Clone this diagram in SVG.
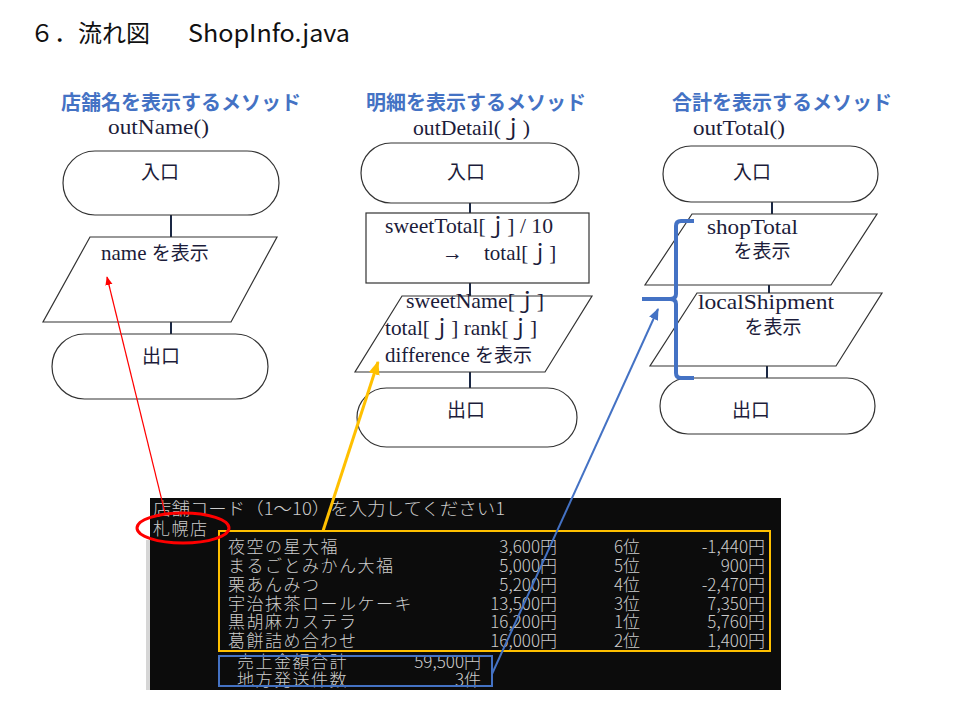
<svg xmlns="http://www.w3.org/2000/svg" width="960" height="720" viewBox="0 0 960 720">
<style>
.title{font-family:"Noto Sans CJK JP","Liberation Sans",sans-serif;font-size:24px;fill:#111}
.sec{font-family:"Noto Sans CJK JP",sans-serif;font-size:20px;font-weight:bold;fill:#4472C4}
.fc{font-family:"Liberation Serif","Noto Sans CJK JP",serif;font-size:21px;fill:#1c1c3a}
.jp{font-family:"Noto Sans CJK JP",sans-serif;font-size:19px;fill:#1c1c3a}
.shape{fill:#fff;stroke:#333;stroke-width:1.2}
.flow{stroke:#1a2744;stroke-width:2;fill:none}
.con{font-family:"Noto Sans CJK JP","Liberation Mono",monospace;font-size:17px;font-weight:300;fill:#cccccc}
.ls{letter-spacing:1.5px}
</style>
<defs>
<marker id="mRed" viewBox="0 0 10 10" refX="9" refY="5" markerWidth="9" markerHeight="9" markerUnits="userSpaceOnUse" orient="auto"><path d="M0,1 L10,5 L0,9 z" fill="#ff0000"/></marker>
<marker id="mYel" viewBox="0 0 10 10" refX="9" refY="5" markerWidth="14" markerHeight="14" markerUnits="userSpaceOnUse" orient="auto"><path d="M0,1 L10,5 L0,9 z" fill="#FFC000"/></marker>
<marker id="mBlu" viewBox="0 0 10 10" refX="9" refY="5" markerWidth="12" markerHeight="12" markerUnits="userSpaceOnUse" orient="auto"><path d="M0,1 L10,5 L0,9 z" fill="#4472C4"/></marker>
<clipPath id="conClip"><rect x="150" y="498" width="631" height="192"/></clipPath>
</defs>
<rect width="960" height="720" fill="#fff"/>

<g id="title">
<text class="title" x="30" y="42">６．流れ図</text>
<text class="title" x="188" y="42" textLength="162" lengthAdjust="spacingAndGlyphs">ShopInfo.java</text>
</g>

<g id="headers">
<text class="sec" x="181" y="110" text-anchor="middle">店舗名を表示するメソッド</text>
<text class="fc" x="108" y="134" textLength="101" lengthAdjust="spacingAndGlyphs">outName()</text>
<text class="sec" x="476" y="110" text-anchor="middle">明細を表示するメソッド</text>
<text class="fc" x="413" y="135" textLength="117" lengthAdjust="spacingAndGlyphs">outDetail(ｊ)</text>
<text class="sec" x="782" y="110" text-anchor="middle">合計を表示するメソッド</text>
<text class="fc" x="693" y="135" textLength="92" lengthAdjust="spacingAndGlyphs">outTotal()</text>
</g>

<!-- connectors -->
<g id="connectors">
<line class="flow" x1="171" y1="215" x2="171" y2="237"/>
<line class="flow" x1="171" y1="322" x2="171" y2="334"/>
<line class="flow" x1="470" y1="203" x2="470" y2="213"/>
<line class="flow" x1="470" y1="283" x2="470" y2="296"/>
<line class="flow" x1="470" y1="372" x2="470" y2="388"/>
<line class="flow" x1="772" y1="202" x2="772" y2="214"/>
<line class="flow" x1="769" y1="285" x2="769" y2="293"/>
<line class="flow" x1="767" y1="366" x2="767" y2="378"/>
</g>

<!-- column 1 -->
<g id="n1-entry">
<rect class="shape" x="63" y="151" width="216" height="64" rx="32"/>
<text class="jp" x="160" y="179" text-anchor="middle">入口</text>
</g>
<g id="n1-output">
<polygon class="shape" points="90,237 277,237 231,322 43,322"/>
<text class="fc" x="101" y="260"><tspan>name </tspan><tspan class="jp">を表示</tspan></text>
</g>
<g id="n1-exit">
<rect class="shape" x="52" y="334" width="216" height="65" rx="32.5"/>
<text class="jp" x="161" y="363" text-anchor="middle">出口</text>
</g>

<!-- column 2 -->
<g id="n2-entry">
<rect class="shape" x="361" y="143" width="218" height="60" rx="30"/>
<text class="jp" x="466" y="179" text-anchor="middle">入口</text>
</g>
<g id="n2-process">
<rect class="shape" x="366" y="213" width="223" height="70"/>
<text class="fc" x="385" y="233" textLength="168" lengthAdjust="spacingAndGlyphs">sweetTotal[ｊ] / 10</text>
<text class="fc"><tspan x="442" y="260">→</tspan><tspan x="484" y="260">total[ｊ]</tspan></text>
</g>
<g id="n2-output">
<polygon class="shape" points="402,296 592,296 545,372 355,372"/>
<text class="fc" x="406" y="308" textLength="138" lengthAdjust="spacingAndGlyphs">sweetName[ｊ]</text>
<text class="fc" x="385" y="335" textLength="152" lengthAdjust="spacingAndGlyphs">total[ｊ] rank[ｊ]</text>
<text class="fc" x="385" y="362"><tspan>difference </tspan><tspan class="jp">を表示</tspan></text>
</g>
<g id="n2-exit">
<rect class="shape" x="357" y="388" width="220" height="59" rx="29.5"/>
<text class="jp" x="466" y="417" text-anchor="middle">出口</text>
</g>

<!-- column 3 -->
<g id="n3-entry">
<rect class="shape" x="663" y="146" width="215" height="56" rx="28"/>
<text class="jp" x="752" y="179" text-anchor="middle">入口</text>
</g>
<g id="n3-output1">
<polygon class="shape" points="692,214 877,214 831,285 645,285"/>
<text class="fc" x="707" y="234" textLength="91" lengthAdjust="spacingAndGlyphs">shopTotal</text>
<text class="jp" x="762" y="258" text-anchor="middle">を表示</text>
</g>
<g id="n3-output2">
<polygon class="shape" points="697,293 882,293 836,366 650,366"/>
<text class="fc" x="698" y="309" textLength="136" lengthAdjust="spacingAndGlyphs">localShipment</text>
<text class="jp" x="773" y="334" text-anchor="middle">を表示</text>
</g>
<g id="n3-exit">
<rect class="shape" x="660" y="378" width="215" height="56" rx="28"/>
<text class="jp" x="751" y="417" text-anchor="middle">出口</text>
</g>

<!-- console output -->
<g id="console">
<rect x="146" y="540" width="5" height="150" fill="#d6d6d6"/>
<rect x="150" y="498" width="631" height="192" fill="#0c0c0c"/>
<g clip-path="url(#conClip)">
<text class="con"><tspan x="153" y="515" textLength="352" lengthAdjust="spacingAndGlyphs">店舗コード（1〜10）を入力してください1</tspan></text>
<text class="con ls"><tspan x="153" y="535">札幌店</tspan><tspan x="228" y="553">夜空の星大福</tspan><tspan x="228" y="572">まるごとみかん大福</tspan><tspan x="228" y="591">栗あんみつ</tspan><tspan x="228" y="610">宇治抹茶ロールケーキ</tspan><tspan x="228" y="628">黒胡麻カステラ</tspan><tspan x="228" y="647">葛餅詰め合わせ</tspan><tspan x="237" y="668">売上金額合計</tspan><tspan x="237" y="686">地方発送件数</tspan></text>
<text class="con" text-anchor="end"><tspan x="557" y="553">3,600円</tspan><tspan x="557" y="572">5,000円</tspan><tspan x="557" y="591">5,200円</tspan><tspan x="557" y="610">13,500円</tspan><tspan x="557" y="628">16,200円</tspan><tspan x="557" y="647">16,000円</tspan><tspan x="481" y="668">59,500円</tspan><tspan x="481" y="686">3件</tspan></text>
<text class="con"><tspan x="614" y="553">6位</tspan><tspan x="614" y="572">5位</tspan><tspan x="614" y="591">4位</tspan><tspan x="614" y="610">3位</tspan><tspan x="614" y="628">1位</tspan><tspan x="614" y="647">2位</tspan></text>
<text class="con" text-anchor="end"><tspan x="765" y="553">-1,440円</tspan><tspan x="765" y="572">900円</tspan><tspan x="765" y="591">-2,470円</tspan><tspan x="765" y="610">7,350円</tspan><tspan x="765" y="628">5,760円</tspan><tspan x="765" y="647">1,400円</tspan></text>
</g>
<rect x="219" y="531" width="551" height="120" fill="none" stroke="#FFC000" stroke-width="2"/>
<rect x="219" y="656" width="273" height="30" fill="none" stroke="#4472C4" stroke-width="2"/>
</g>

<!-- annotations -->
<g id="annotations">
<ellipse cx="183" cy="528" rx="46" ry="15" fill="none" stroke="#ff0000" stroke-width="3"/>
<path d="M694,221 L681,221 Q676,221 676,226 L676,294 Q676,299 670,299 L642,299 M670,299 Q676,299 676,304 L676,373 Q676,378 681,378 L694,378" fill="none" stroke="#4472C4" stroke-width="4"/>
<line x1="165" y1="513" x2="107" y2="277" stroke="#ff0000" stroke-width="1.2" marker-end="url(#mRed)"/>
<line x1="323" y1="531" x2="378" y2="362" stroke="#FFC000" stroke-width="3" marker-end="url(#mYel)"/>
<line x1="492" y1="674" x2="658" y2="309" stroke="#4472C4" stroke-width="2" marker-end="url(#mBlu)"/>
</g>
</svg>
